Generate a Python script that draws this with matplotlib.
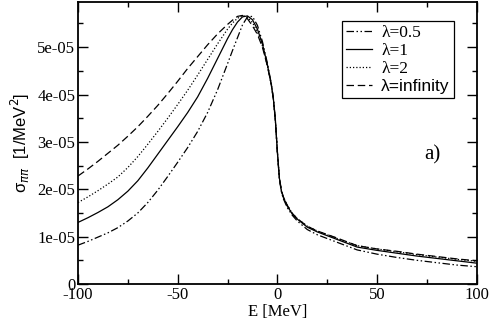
import matplotlib
matplotlib.use("Agg")
import matplotlib.pyplot as plt
from matplotlib.ticker import MultipleLocator, FuncFormatter

# Energy grid (MeV)
E = [-100, -95, -90, -85, -80, -75, -70, -65, -60, -55, -50, -45, -40, -35, -30,
     -25, -22.5, -20, -17.5, -15, -12.5, -10, -7.5, -5, -3, -2, -1, 0, 1, 2, 3,
     5, 7.5, 10, 15, 20, 30, 40, 50, 60, 70, 80, 90, 100]

# cross sections in units of 1e-5 MeV^-2
sig_05 = [0.82, 0.90, 0.99, 1.08, 1.19, 1.33, 1.50, 1.72, 1.98, 2.27, 2.57, 2.88,
          3.22, 3.62, 4.10, 4.65, 4.93, 5.20, 5.47, 5.64, 5.65, 5.46, 5.12, 4.66,
          4.22, 3.92, 3.47, 2.78, 2.22, 1.95, 1.80, 1.61, 1.45, 1.33, 1.15, 1.04,
          0.88, 0.72, 0.63, 0.56, 0.50, 0.45, 0.40, 0.365]
sig_1 = [1.30, 1.40, 1.51, 1.63, 1.78, 1.96, 2.18, 2.45, 2.74, 3.03, 3.32, 3.62,
         3.95, 4.34, 4.76, 5.18, 5.37, 5.53, 5.64, 5.66, 5.58, 5.38, 5.07, 4.63,
         4.20, 3.91, 3.46, 2.79, 2.24, 1.97, 1.83, 1.64, 1.48, 1.37, 1.20, 1.10,
         0.94, 0.78, 0.71, 0.65, 0.59, 0.54, 0.49, 0.44]
sig_2 = [1.72, 1.84, 1.97, 2.11, 2.26, 2.46, 2.69, 2.95, 3.22, 3.50, 3.79, 4.09,
         4.41, 4.74, 5.07, 5.38, 5.51, 5.61, 5.67, 5.63, 5.52, 5.32, 5.03, 4.61,
         4.20, 3.90, 3.45, 2.80, 2.25, 1.98, 1.84, 1.66, 1.49, 1.38, 1.22, 1.12,
         0.96, 0.81, 0.74, 0.68, 0.62, 0.57, 0.52, 0.48]
sig_inf = [2.28, 2.43, 2.59, 2.76, 2.93, 3.12, 3.32, 3.54, 3.77, 4.02, 4.28, 4.55,
           4.80, 5.05, 5.28, 5.48, 5.57, 5.65, 5.67, 5.60, 5.45, 5.27, 5.00, 4.60,
           4.20, 3.90, 3.45, 2.80, 2.25, 1.98, 1.84, 1.66, 1.49, 1.38, 1.22, 1.12,
           0.97, 0.81, 0.74, 0.69, 0.63, 0.58, 0.53, 0.49]

labels = ["λ=0.5", "λ=1", "λ=2", "λ=infinity"]
styles = [(0, (6, 2, 1.2, 2, 1.2, 2)), "-", (0, (1, 1.6)), (0, (6, 3))]
series = [sig_05, sig_1, sig_2, sig_inf]

plt.rcParams['font.family'] = ['Liberation Serif', 'DejaVu Serif']

fig = plt.figure(figsize=(4.91, 3.20), dpi=100)
ax = fig.add_axes([0.1589, 0.1125, 0.9709 - 0.1589, 0.9947 - 0.1125])

for s, ls, lab in zip(series, styles, labels):
    ax.plot(E, [v * 1e-5 for v in s], color="black", linestyle=ls, lw=0.9, label=lab)

ax.set_xlim(-100, 100)
ax.set_ylim(0, 5.96e-5)
ax.xaxis.set_major_locator(MultipleLocator(50))
ax.xaxis.set_minor_locator(MultipleLocator(25))
ax.yaxis.set_major_locator(MultipleLocator(1e-5))
ax.yaxis.set_minor_locator(MultipleLocator(0.5e-5))
ax.yaxis.set_major_formatter(FuncFormatter(lambda v, p: "0" if abs(v) < 1e-12 else f"{v:.0e}"))
ax.xaxis.set_major_formatter(FuncFormatter(lambda v, p: f"{v:g}"))
ax.tick_params(which="both", direction="in", top=True, right=True, labelsize=12,
               pad=2)
ax.tick_params(which="major", length=7, width=1)
ax.tick_params(which="minor", length=3.5, width=1)
for lab in ax.get_xticklabels() + ax.get_yticklabels():
    lab.set_family(['Liberation Serif', 'DejaVu Serif'])
for sp in ax.spines.values():
    sp.set_linewidth(1.3)

ax.set_xlabel("E [MeV]", fontsize=12, labelpad=1)
ax.set_ylabel(r"σ$_{\pi\pi}$  [1/MeV$^2$]", fontsize=12, labelpad=4,
              family=['Liberation Sans', 'DejaVu Sans'])

ax.text(78, 2.72e-5, "a)", fontsize=15, ha="center", va="center")

leg = ax.legend(loc="upper left", bbox_to_anchor=(0.662, 0.932), borderaxespad=0,
                fancybox=False, edgecolor="black", framealpha=1,
                prop={'family': ['Liberation Serif', 'DejaVu Serif'], 'size': 12.5},
                handlelength=1.5, handletextpad=0.5, labelspacing=0.1,
                borderpad=0.25)
leg.get_frame().set_linewidth(0.9)
leg.get_texts()[3].set_family(['Liberation Sans', 'DejaVu Sans'])

fig.savefig("out.png", dpi=100)
